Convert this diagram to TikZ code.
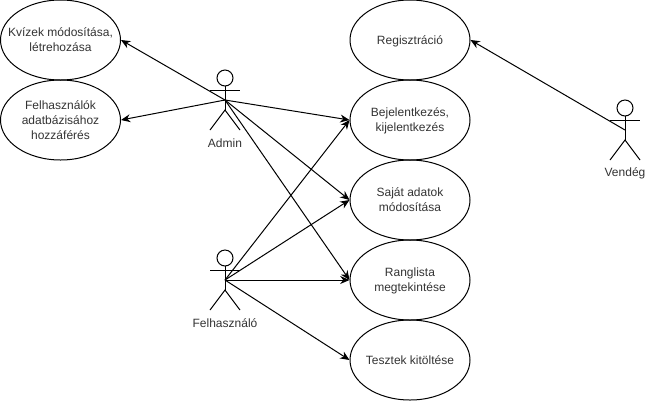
\documentclass[tikz,border=0pt]{standalone}
\usepackage{fontspec}
\setmainfont{Liberation Sans}
\usepackage{tikz}
\usetikzlibrary{shapes.geometric}
\usetikzlibrary{arrows.meta}
\tikzset{
    usecase/.style={draw,ellipse,minimum width=90pt,minimum height=60pt,inner sep=-12pt,text depth=0pt,align=center,font=\fontsize{9pt}{11.25pt}\selectfont,text=black!80},
    actorlabel/.style={font=\fontsize{9pt}{11.25pt}\selectfont,text=black!80,inner sep=0pt},
    assoc/.style={-{Stealth[length=7pt,width=6pt]},line width=0.75pt}
}
\begin{document}
\begin{tikzpicture}[x=0.75pt,y=-0.75pt,line width=0.75pt]
\useasboundingbox (0,0) rectangle (646,401);
\node[usecase] (kvizek) at (60.5,40) {Kvízek módosítása,\\létrehozása};
\node[usecase] (adatbazis) at (60.5,120) {Felhasználók\\adatbázisához\\hozzáférés};
\node[usecase] (regisztracio) at (410,40) {Regisztráció};
\node[usecase] (bejelentkezes) at (410,120) {Bejelentkezés,\\kijelentkezés};
\node[usecase] (adatok) at (410,200) {Saját adatok\\módosítása};
\node[usecase] (ranglista) at (410,280) {Ranglista\\megtekintése};
\node[usecase] (tesztek) at (410,360) {Tesztek kitöltése};
% actors
\foreach \who/\x/\y/\lab in {admin/225/100/Admin,felhasznalo/225/280/Felhasználó,vendeg/625/130/Vendég}{
    \coordinate (\who) at (\x,\y);
    \draw (\x,\y-22) circle [radius=6pt];
    \draw (\x,\y-14) -- (\x,\y+10);
    \draw (\x-15,\y-10) -- (\x+15,\y-10);
    \draw (\x-15,\y+30) -- (\x,\y+10) -- (\x+15,\y+30);
    \node[actorlabel] (\who label) at (\x,\y+43) {\lab};
}
\draw[assoc] (admin) -- (kvizek.east);
\draw[assoc] (admin) -- (adatbazis.east);
\draw[assoc] (admin) -- (bejelentkezes.west);
\draw[assoc] (admin) -- (adatok.west);
\draw[assoc] (admin) -- (ranglista.west);
\draw[assoc] (felhasznalo) -- (bejelentkezes.west);
\draw[assoc] (felhasznalo) -- (adatok.west);
\draw[assoc] (felhasznalo) -- (ranglista.west);
\draw[assoc] (felhasznalo) -- (tesztek.west);
\draw[assoc] (vendeg) -- (regisztracio.east);
\end{tikzpicture}
\end{document}
